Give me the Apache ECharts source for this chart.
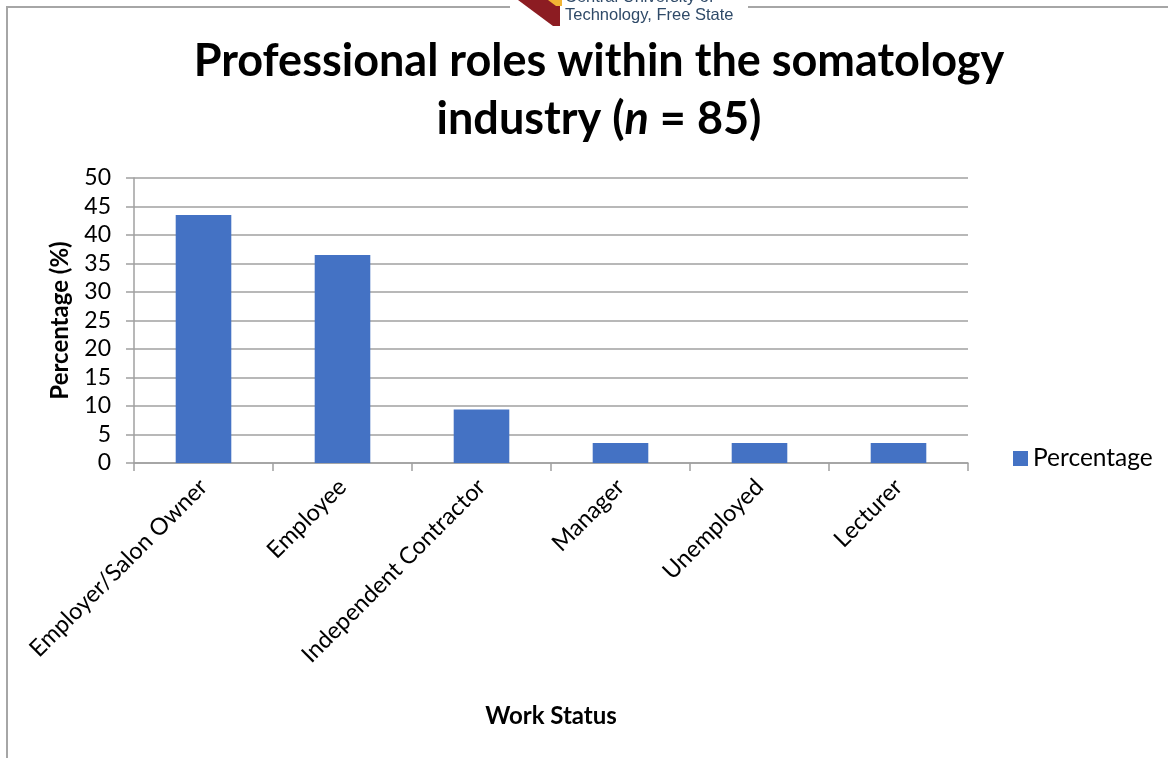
<!DOCTYPE html>
<html><head><meta charset="utf-8">
<script src="https://cdn.jsdelivr.net/npm/echarts@6/dist/echarts.min.js"></script>
<style>html,body{margin:0;padding:0;background:#fff}#c{width:1168px;height:758px}</style>
</head><body><div id="c"></div>
<script>
const categories = ['Employer/Salon Owner','Employee','Independent Contractor','Manager','Unemployed','Lecturer'];
const percentages = [43.5, 36.5, 9.4, 3.5, 3.5, 3.5];
const seriesName = 'Percentage';
const yTicks = {min: 0, max: 50, interval: 5};

const FONT = 'Lato';
const chart = echarts.init(document.getElementById('c'));
chart.setOption({
  animation: false,
  backgroundColor: '#fff',
  title: {
    text: 'Professional roles within the somatology\nindustry ({i|n} = 85)',
    left: 594, top: 27, textAlign: 'center',
    textStyle: {
      fontFamily: FONT, fontWeight: 'bold', fontSize: 45, color: '#000', lineHeight: 58,
      rich: { i: { fontStyle: 'italic', fontFamily: FONT, fontWeight: 'bold', fontSize: 45, color: '#000' } }
    }
  },
  grid: { left: 134, right: 200, top: 178, bottom: 295, containLabel: false },
  legend: {
    data: [seriesName], left: 1008, top: 441, itemWidth: 15, itemHeight: 15, itemGap: 6,
    textStyle: { fontFamily: FONT, fontSize: 24.5, color: '#000' }, icon: 'rect'
  },
  xAxis: {
    type: 'category', data: categories,
    name: 'Work Status', nameLocation: 'middle', nameGap: 241,
    nameTextStyle: { fontFamily: FONT, fontWeight: 'bold', fontSize: 24, color: '#000' },
    axisLine: { lineStyle: { color: '#a0a0a0', width: 1.5 } },
    axisTick: { show: true, length: 8, alignWithLabel: false, lineStyle: { color: '#a0a0a0', width: 1.5 } },
    axisLabel: { rotate: 45, fontFamily: FONT, fontSize: 23.5, color: '#000', margin: 20, interval: 0 }
  },
  yAxis: {
    type: 'value', min: yTicks.min, max: yTicks.max, interval: yTicks.interval,
    name: 'Percentage (%)', nameLocation: 'middle', nameGap: 62, nameRotate: 90,
    nameTextStyle: { fontFamily: FONT, fontWeight: 'bold', fontSize: 24, color: '#000' },
    axisLine: { show: true, lineStyle: { color: '#a0a0a0', width: 1.5 } },
    axisTick: { show: true, length: 8, lineStyle: { color: '#a0a0a0', width: 1.5 } },
    splitLine: { lineStyle: { color: '#a0a0a0', width: 1.5 } },
    axisLabel: { fontFamily: FONT, fontSize: 23, color: '#000', margin: 23 }
  },
  series: [{
    name: seriesName, type: 'bar', data: percentages, barWidth: '40%',
    itemStyle: { color: '#4472c4' }
  }],
  graphic: [
    { type: 'line', shape: { x1: 7, y1: 7, x2: 510, y2: 7 }, style: { stroke: '#a6a6a6', lineWidth: 2 } },
    { type: 'line', shape: { x1: 748, y1: 7, x2: 1168, y2: 7 }, style: { stroke: '#a6a6a6', lineWidth: 2 } },
    { type: 'line', shape: { x1: 7, y1: 6, x2: 7, y2: 758 }, style: { stroke: '#a6a6a6', lineWidth: 2 } },
    { type: 'polygon', shape: { points: [[518,0],[560,0],[560,26],[553,26]] }, style: { fill: '#8c1c22' } },
    { type: 'polygon', shape: { points: [[548,0],[562,0],[562,6],[556,6]] }, style: { fill: '#f1b434' } },
    { type: 'text', left: 565, top: -11, style: { text: 'Central University of', font: '16.5px "Liberation Sans"', fill: '#2f4a68' } },
    { type: 'text', left: 565, top: 7, style: { text: 'Technology, Free State', font: '16.5px "Liberation Sans"', fill: '#2f4a68' } }
  ]
});
</script></body></html>
